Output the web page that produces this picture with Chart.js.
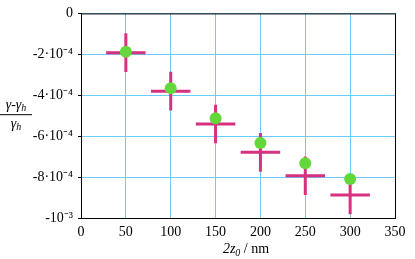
<!DOCTYPE html>
<html>
<head>
<meta charset="utf-8">
<script src="https://cdn.jsdelivr.net/npm/chart.js@4.4.1/dist/chart.umd.min.js"></script>
<style>
  body { margin: 0; background: #fff; }
  #wrap { width: 415px; height: 259px; }
</style>
</head>
<body>
<div id="wrap"><canvas id="chart"></canvas></div>
<script>
// particle size 2z0 (nm)
const sizes = [50, 100, 150, 200, 250, 300];
// green points: (gamma - gamma_h) / gamma_h
const gammaShift = [-1.87e-4, -3.66e-4, -5.12e-4, -6.33e-4, -7.32e-4, -8.09e-4];
// magenta crosses: centre and half widths
const crossY = [-1.92e-4, -3.80e-4, -5.41e-4, -6.79e-4, -7.94e-4, -8.87e-4];
const xErr = [22, 22, 22, 22, 22, 22];
const yErr = [0.95e-4, 0.95e-4, 0.94e-4, 0.95e-4, 0.94e-4, 0.95e-4];
// y tick labels, keyed by value / 1e-4
const yTickLabels = { 0: "0", "-2": "-2·10⁻⁴", "-4": "-4·10⁻⁴", "-6": "-6·10⁻⁴", "-8": "-8·10⁻⁴", "-10": "-10⁻³" };

const serif = "'Liberation Serif', 'Times New Roman', serif";

// build the crosses as broken line segments
const crossPts = [];
sizes.forEach((s, i) => {
  crossPts.push({ x: s - xErr[i], y: crossY[i] });
  crossPts.push({ x: s + xErr[i], y: crossY[i] });
  crossPts.push({ x: s, y: null });
  crossPts.push({ x: s, y: crossY[i] + yErr[i] });
  crossPts.push({ x: s, y: crossY[i] - yErr[i] });
  crossPts.push({ x: s, y: null });
});

const framePlugin = {
  id: "frame",
  afterDraw(chart) {
    const { ctx, chartArea: a } = chart;
    ctx.save();
    ctx.strokeStyle = "#000";
    ctx.lineWidth = 1;
    ctx.strokeRect(a.left + 0.5, a.top + 0.5, a.right - a.left, a.bottom - a.top);

    ctx.fillStyle = "#000";
    ctx.textBaseline = "alphabetic";

    // y title as fraction
    const cy = (a.top + a.bottom) / 2;
    const cx = 16;
    const big = "italic 14px " + serif;
    const small = "italic 10px " + serif;
    ctx.font = big;
    const wNum = ctx.measureText("γ-γ").width;
    ctx.font = small;
    const wH = ctx.measureText("h").width;
    let x0 = cx - (wNum + wH) / 2;
    ctx.font = big;
    ctx.fillText("γ-γ", x0, cy - 7);
    ctx.font = small;
    ctx.fillText("h", x0 + wNum, cy - 5);
    ctx.beginPath();
    ctx.moveTo(0, cy - 1);
    ctx.lineTo(32, cy - 1);
    ctx.stroke();
    ctx.font = big;
    const wG = ctx.measureText("γ").width;
    x0 = cx - (wG + wH) / 2;
    ctx.fillText("γ", x0, cy + 12);
    ctx.font = small;
    ctx.fillText("h", x0 + wG, cy + 14);

    // x title
    const parts = [
      ["italic 14px " + serif, "2z", 0],
      ["italic 10px " + serif, "0", 3],
      ["14px " + serif, " / nm", 0]
    ];
    let total = 0;
    parts.forEach((p) => { ctx.font = p[0]; total += ctx.measureText(p[1]).width; });
    let x = (a.left + a.right) / 2 + 8 - total / 2;
    parts.forEach((p) => {
      ctx.font = p[0];
      ctx.fillText(p[1], x, 253 + p[2]);
      x += ctx.measureText(p[1]).width;
    });
    ctx.restore();
  }
};

new Chart(document.getElementById("chart"), {
  type: "scatter",
  data: {
    datasets: [
      {
        data: sizes.map((s, i) => ({ x: s, y: gammaShift[i] })),
        backgroundColor: "#62d83a",
        borderWidth: 0,
        pointRadius: 6,
        pointHoverRadius: 6
      },
      {
        data: crossPts,
        showLine: true,
        spanGaps: false,
        borderColor: "#d6307f",
        borderWidth: 3,
        pointRadius: 0,
        pointHoverRadius: 0
      }
    ]
  },
  options: {
    responsive: true,
    maintainAspectRatio: false,
    animation: false,
    layout: { padding: { left: 0, right: 20, top: 8, bottom: 0 } },
    plugins: { legend: { display: false }, tooltip: { enabled: false } },
    scales: {
      x: {
        type: "linear",
        min: 0,
        max: 350,
        afterFit: (s) => { s.height = 41; },
        grid: { color: "#6ccbf7", drawTicks: false },
        border: { color: "#000" },
        ticks: {
          stepSize: 50,
          padding: 6,
          color: "#000",
          font: { family: serif, size: 14 }
        }
      },
      y: {
        type: "linear",
        min: -1e-3,
        max: 0,
        afterFit: (s) => { s.width = 81; },
        grid: { color: "#6ccbf7", tickColor: "#000", tickLength: 3 },
        border: { color: "#000" },
        ticks: {
          stepSize: 2e-4,
          padding: 5,
          color: "#000",
          font: { family: serif, size: 14 },
          callback: (v) => yTickLabels[Math.round(v / 1e-4)]
        }
      }
    }
  },
  plugins: [framePlugin]
});
</script>
</body>
</html>
